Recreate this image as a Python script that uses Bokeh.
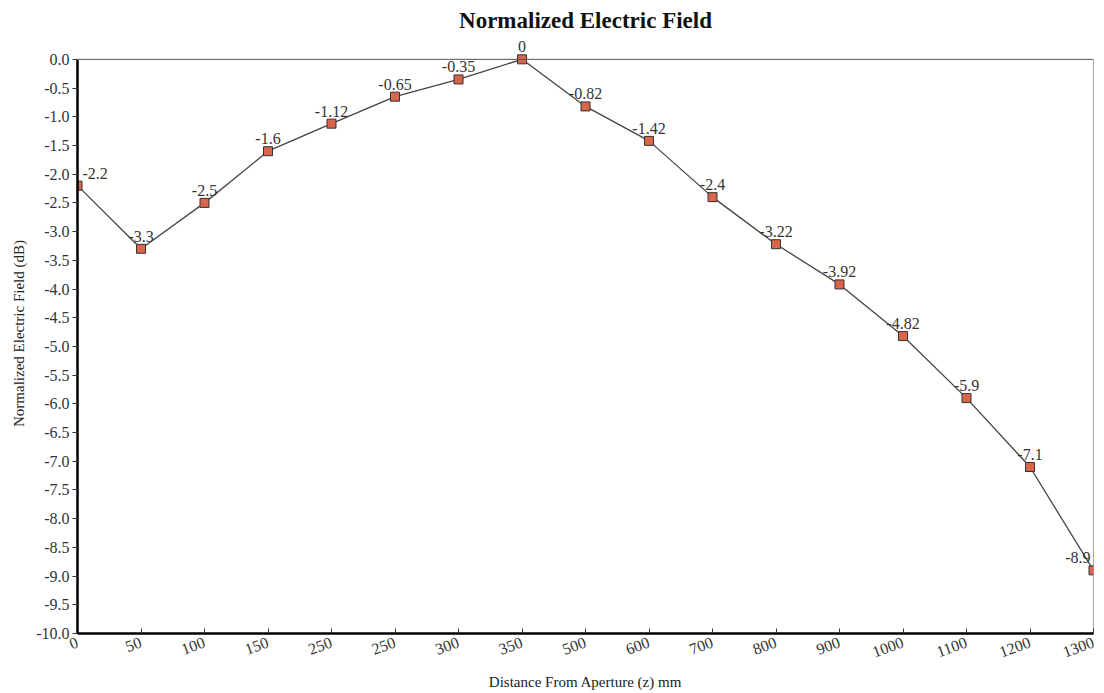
from bokeh.plotting import figure
from bokeh.models import ColumnDataSource, FixedTicker, Range1d, LabelSet, Span
from bokeh.embed import file_html
from bokeh.resources import INLINE
from bokeh.core.properties import value

x_labels = ["0", "50", "100", "150", "250", "250", "300", "350", "500",
            "600", "700", "800", "900", "1000", "1100", "1200", "1300"]
field_db = [-2.2, -3.3, -2.5, -1.6, -1.12, -0.65, -0.35, 0, -0.82,
            -1.42, -2.4, -3.22, -3.92, -4.82, -5.9, -7.1, -8.9]
value_labels = ["-2.2", "-3.3", "-2.5", "-1.6", "-1.12", "-0.65", "-0.35", "0", "-0.82",
                "-1.42", "-2.4", "-3.22", "-3.92", "-4.82", "-5.9", "-7.1", "-8.9"]
y_ticks = [0.0, -0.5, -1.0, -1.5, -2.0, -2.5, -3.0, -3.5, -4.0, -4.5, -5.0,
           -5.5, -6.0, -6.5, -7.0, -7.5, -8.0, -8.5, -9.0, -9.5, -10.0]

n = len(x_labels)
xs = list(range(n))
aligns = ["center"] * n
aligns[0] = "left"
aligns[-1] = "right"
xoff = [0] * n
xoff[0] = 5
xoff[-1] = -3

y_top, y_bot = max(y_ticks), min(y_ticks)

src = ColumnDataSource(dict(x=xs, y=field_db, lab=value_labels, align=aligns, xo=xoff))

SERIF = "Liberation Serif"

# headroom above the 0 dB line so the topmost value label is not clipped
p = figure(width=1104, height=693, output_backend="svg", toolbar_location=None,
           x_range=Range1d(0, n - 1), y_range=Range1d(y_bot, y_top + 0.45),
           min_border_left=77, min_border_right=11, min_border_top=33, min_border_bottom=60)

p.title.text = "Normalized Electric Field"
p.title.align = "center"
p.title.text_font = SERIF
p.title.text_font_size = "23px"
p.title.text_font_style = "bold"
p.title.text_color = "#111111"
p.title.standoff = 2

p.xgrid.visible = False
p.ygrid.visible = False
p.outline_line_color = None

# plot-area border (top and right) at the data limits
p.add_layout(Span(location=y_top, dimension="width", line_color="#555555", line_width=1))
p.segment(x0=[n - 1], y0=[y_bot], x1=[n - 1], y1=[y_top], line_color="#555555", line_width=1)

p.line("x", "y", source=src, line_color="#444444", line_width=1.3)
p.scatter("x", "y", source=src, marker="square", size=9,
          fill_color="#D9654A", line_color="#333333", line_width=1)

labels = LabelSet(x="x", y="y", text="lab", source=src, text_align="align",
                  x_offset="xo", y_offset=7, text_baseline="bottom",
                  text_font=value(SERIF), text_font_size="16px", text_color="#333333")
p.add_layout(labels)

p.xaxis.ticker = FixedTicker(ticks=xs)
p.xaxis.major_label_overrides = {i: s for i, s in enumerate(x_labels)}
p.xaxis.major_label_orientation = 0.35
p.xaxis.axis_label = "Distance From Aperture (z) mm"
p.xaxis.axis_line_color = "black"
p.xaxis.axis_line_width = 2.5
p.xaxis.major_tick_in = 5
p.xaxis.major_tick_out = 0
p.xaxis.minor_tick_line_color = None
p.xaxis.major_tick_line_color = "#333333"
p.xaxis.major_label_standoff = 8
p.xaxis.axis_label_standoff = 8

p.yaxis.ticker = FixedTicker(ticks=y_ticks)
p.yaxis.bounds = (y_bot, y_top)
p.yaxis.major_label_overrides = {t: f"{t:.1f}" for t in y_ticks}
p.yaxis.axis_label = "Normalized Electric Field (dB)"
p.yaxis.axis_line_color = "black"
p.yaxis.axis_line_width = 2.5
p.yaxis.major_tick_in = 0
p.yaxis.major_tick_out = 5
p.yaxis.minor_tick_line_color = None
p.yaxis.major_tick_line_color = "#333333"
p.yaxis.major_label_standoff = 3
p.yaxis.axis_label_standoff = 6

for ax in (p.xaxis, p.yaxis):
    ax.major_label_text_font = SERIF
    ax.major_label_text_font_size = "16px"
    ax.major_label_text_color = "#333333"
    ax.axis_label_text_font = SERIF
    ax.axis_label_text_font_size = "15px"
    ax.axis_label_text_font_style = "normal"
    ax.axis_label_text_color = "#222222"

open("out.html", "w").write(file_html(p, INLINE))
